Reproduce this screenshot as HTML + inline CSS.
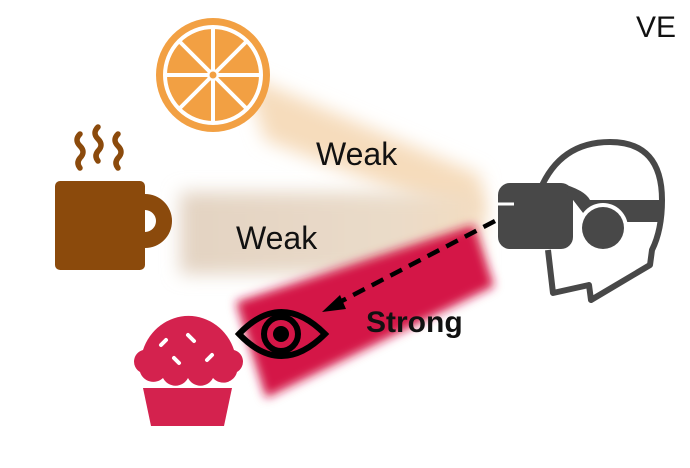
<!DOCTYPE html>
<html><head><meta charset="utf-8"><style>
html,body{margin:0;padding:0;background:#fff;}
svg{display:block;}
text{font-family:"Liberation Sans",sans-serif;}
</style></head><body>
<svg width="690" height="468" viewBox="0 0 690 468">
<defs>
<filter id="b1" x="-30%" y="-30%" width="160%" height="160%"><feGaussianBlur stdDeviation="9"/></filter>
<filter id="b2" x="-30%" y="-30%" width="160%" height="160%"><feGaussianBlur stdDeviation="5"/></filter>
<linearGradient id="g2" x1="0" x2="1"><stop offset="0" stop-color="#e3d3c2"/><stop offset="0.7" stop-color="#eadbc9"/><stop offset="1" stop-color="#f3dcc0"/></linearGradient>
</defs>
<polygon points="245,75 480,175 485,225 265,140" fill="#f6dcbc" filter="url(#b1)"/>
<rect x="180" y="192" width="300" height="82" fill="url(#g2)" filter="url(#b1)"/>
<polygon points="236,302 474,225 494,286 266,398" fill="#d41446" filter="url(#b2)"/>

<text x="316" y="165" font-size="32" fill="#111">Weak</text>
<text x="236" y="249" font-size="32" fill="#111">Weak</text>
<text x="366" y="332" font-size="30" font-weight="bold" fill="#111">Strong</text>
<text x="636" y="37" font-size="30" fill="#111">VE</text>

<g>
<circle cx="213" cy="75" r="57" fill="#f2a043"/>
<circle cx="213" cy="75" r="48" fill="none" stroke="#fff" stroke-width="4"/>
<g stroke="#fff" stroke-width="4">
<line x1="213" y1="27" x2="213" y2="123"/><line x1="165" y1="75" x2="261" y2="75"/>
<line x1="179" y1="41" x2="247" y2="109"/><line x1="247" y1="41" x2="179" y2="109"/>
</g>
<circle cx="213" cy="75" r="6" fill="#fff"/><circle cx="213" cy="75" r="3.5" fill="#f2a043"/>
</g>
<g fill="#8b4a0c">
<rect x="55" y="181" width="90" height="89" rx="5"/>
<path d="M140,194 h5 a27,27 0 0 1 0,54 h-5 v-16 h5 a11,11 0 0 0 0,-22 h-5z"/>
<g fill="none" stroke="#8b4a0c" stroke-width="5.5" stroke-linecap="round">
<path d="M80,134 q-6,6 0,12 q6,6 0,12 q-4,5 0,10"/>
<path d="M98,127 q-6,6 0,12 q6,6 0,12 q-4,5 0,10"/>
<path d="M118,134 q-6,6 0,12 q6,6 0,12 q-4,5 0,10"/>
</g>
</g>
<g fill="#d4224e">
<path d="M143,388 L232,388 L224,426 L151,426 Z"/>
<path d="M140,372 a12,12 0 0 1 3,-22 a48,50 0 0 1 91,0 a12,12 0 0 1 3,22 a14,14 0 0 1 -24,6 a14,14 0 0 1 -25,0 a14,14 0 0 1 -25,0 a14,14 0 0 1 -23,-6z"/>
<g stroke="#fff" stroke-width="4" stroke-linecap="round">
<line x1="161" y1="345" x2="166" y2="340"/><line x1="188" y1="335" x2="194" y2="341"/>
<line x1="174" y1="358" x2="179" y2="363"/><line x1="207" y1="360" x2="212" y2="355"/>
</g>
</g>
<g>
<path d="M239,334 Q281,290 325,334 Q281,378 239,334Z" fill="none" stroke="#000" stroke-width="6"/>
<circle cx="281" cy="334" r="17" fill="none" stroke="#000" stroke-width="6"/>
<circle cx="281" cy="334" r="8" fill="#000"/>
</g>
<g>
<line x1="495" y1="221" x2="336" y2="304" stroke="#000" stroke-width="4.5" stroke-dasharray="13,8"/>
<polygon points="322,312 340,295 346,309" fill="#000"/>
</g>
<g>
<path d="M540,190 Q560,142 610,142 Q662,142 662,200 Q662,230 652,250 L650,265 L591,300 L589,285 L553,293 L548,250" fill="none" stroke="#484848" stroke-width="6" stroke-linejoin="round"/>
<rect x="498" y="183" width="75" height="66" rx="12" fill="#484848"/>
<path d="M560,183 Q585,190 590,200 L663,200 L663,222 L590,222 Z" fill="#484848"/>
<line x1="498" y1="204" x2="514" y2="204" stroke="#fff" stroke-width="3"/>
<circle cx="603" cy="228" r="25" fill="#fff"/>
<circle cx="603" cy="228" r="21" fill="#484848"/>
</g>
</svg>
</body></html>
